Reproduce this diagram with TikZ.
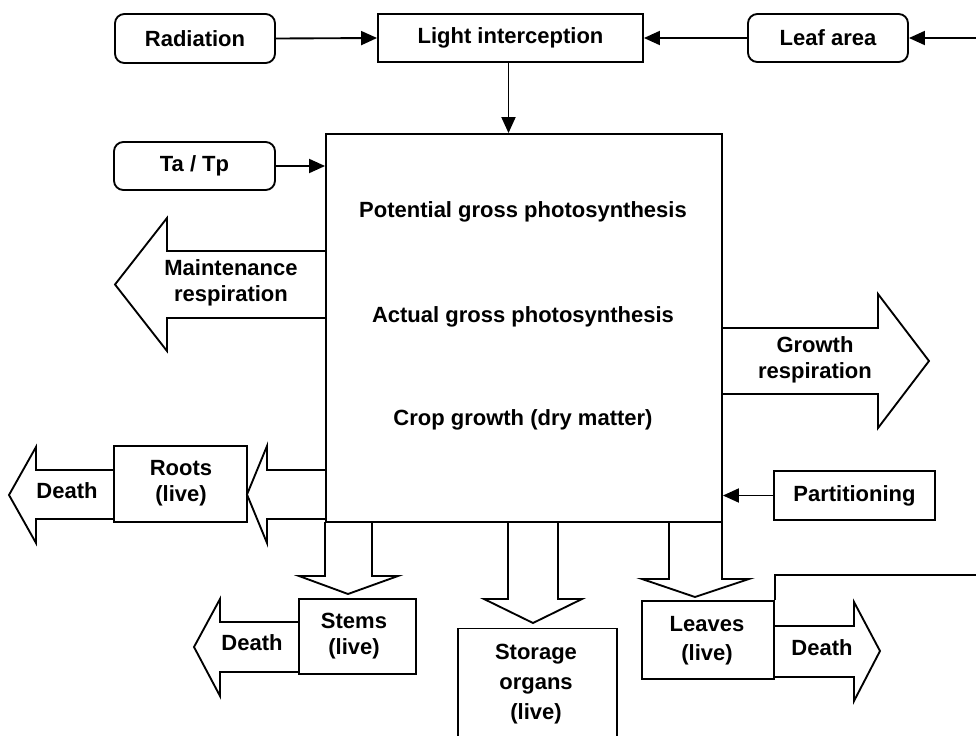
\documentclass[tikz,border=0pt]{standalone}
\usepackage{fontspec}
\setmainfont{Liberation Sans}
\usetikzlibrary{arrows.meta}
\begin{document}
\begin{tikzpicture}[x=0.75pt,y=-0.75pt,
  every node/.style={font=\bfseries\fontsize{16.5}{19.5}\selectfont},
  sz/.style 2 args={minimum width=#1*0.75pt, minimum height=#2*0.75pt, inner sep=0pt},
  box/.style={draw, line width=1.4pt, rectangle},
  rbox/.style={box, rounded corners=7pt},
  txt/.style={inner sep=0pt, align=center},
  arr/.style={line width=1.4pt, -{Triangle[length=12pt,width=10.5pt]}},
  blk/.style={draw, line width=1.4pt, line join=miter},
]
\clip (0,0) rectangle (976,736);
\fill[white] (0,0) rectangle (976,736);

% top row
\node[rbox, sz={160}{49}] (rad) at (195,38.5) {Radiation};
\node[box, sz={265}{48}] (li) at (510.5,38) {Light interception};
\node[rbox, sz={160}{48}] (la) at (828,38) {Leaf area};
\coordinate (inR) at (976,38);

% main box
\node[box, sz={396}{388}] (main) at (524,328) {};
\node[txt] (pgp) at (523,212) {Potential gross photosynthesis};
\node[txt] (agp) at (523,317) {Actual gross photosynthesis};
\node[txt] (cg) at (523,420) {Crop growth (dry matter)};

\node[rbox, sz={161}{48}] (tatp) at (194.5,166) {Ta / Tp};
\node[box, sz={161}{49}] (part) at (854.5,495.5) {Partitioning};

% connectors
\draw[arr] (rad.east) -- (li.west);
\draw[arr] (la.west) -- (li.east);
\draw[arr] (inR) -- (la.east);
\draw[arr] ([xshift=-1.5pt]li.south) -- ([xshift=-1.5pt]li.south |- main.north);
\draw[arr] (tatp.east) -- (tatp.east -| main.west);
\draw[arr] (part.west) -- (part.west -| main.east);

% maintenance respiration (left block arrow)
\draw[blk] (326,251) -- (167,251) -- (167,218) -- (115,284.5) -- (167,351) -- (167,318) -- (326,318);
\node[txt] (mr) at (231,283) {Maintenance\\respiration};

% growth respiration (right block arrow)
\draw[blk] (722,328) -- (878,328) -- (878,294) -- (929,361) -- (878,428) -- (878,394) -- (722,394);
\node[txt] (gr) at (815,360) {Growth\\respiration};

% roots
\node[box, sz={133}{76}] (roots) at (180.5,484) {};
\node[txt] (rootst) at (181,483) {Roots\\(live)};
\draw[blk] (326,470) -- (267,470) -- (267,446) -- (247,494.5) -- (267,543) -- (267,519) -- (326,519);
\draw[blk] (114,470) -- (36,470) -- (36,447) -- (9,495) -- (36,543) -- (36,519) -- (114,519);
\node[txt] (d1) at (67,491) {Death};

% stems
\draw[blk] (325,522) -- (325,576) -- (299,576) -- (348,594) -- (398,576) -- (372,576) -- (372,522);
\node[box, sz={117}{75}] (stems) at (357.5,636.5) {};
\node[txt] (stemst) at (354,636) {Stems\\ (live)};
\draw[blk] (299,622) -- (220,622) -- (220,599) -- (194,647) -- (220,696) -- (220,672) -- (299,672);
\node[txt] (d2) at (252,643) {Death};

% storage organs
\draw[blk] (508,522) -- (508,599) -- (484,599) -- (533,623) -- (582,599) -- (558,599) -- (558,522);
\node[box, sz={159}{160}, anchor=north] (sto) at (537.5,627.5) {};
\node[txt, font=\bfseries\fontsize{16.5}{22.5}\selectfont] (stot) at (536,684) {Storage\\organs\\(live)};

% leaves
\draw[blk] (669,522) -- (669,579) -- (642,579) -- (695,597) -- (749,579) -- (722,579) -- (722,522);
\node[box, sz={132}{78}] (leaves) at (708,640) {};
\node[txt, font=\bfseries\fontsize{16.5}{21.5}\selectfont] (leavest) at (707,641) {Leaves\\(live)};
\draw[blk] (774,626) -- (854,626) -- (854,602) -- (880,651) -- (854,701) -- (854,677) -- (774,677);
\node[txt] (d3) at (822,648) {Death};
\coordinate (outR) at (976,575);
\draw[line width=1.4pt] (leaves.north east) |- (outR);
\end{tikzpicture}
\end{document}
